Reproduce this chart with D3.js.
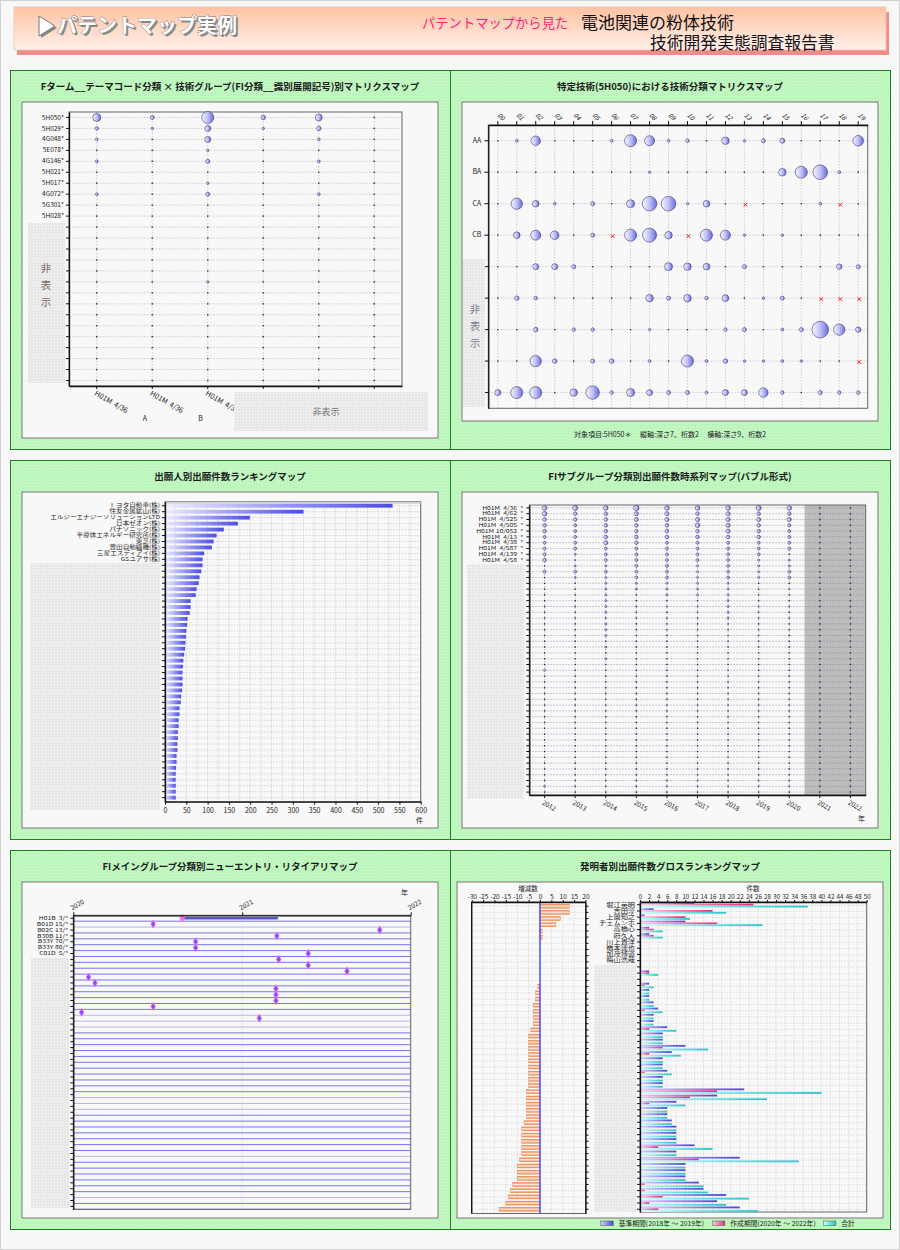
<!DOCTYPE html>
<html lang="ja">
<head>
<meta charset="utf-8">
<title>パテントマップ実例</title>
<script src="https://cdn.jsdelivr.net/npm/d3@7"></script>
<style>
  body { margin: 0; background: #f7f7f7; }
  svg { display: block; font-family: "Noto Sans CJK JP", "Noto Sans", sans-serif; }
</style>
</head>
<body>
<svg id="page" width="900" height="1250"></svg>
<script>

// ---------- header texts ----------
var headMain = 'パテントマップ実例';
var headSub1 = 'パテントマップから見た';
var headSub2 = '電池関連の粉体技術';
var headSub3 = '技術開発実態調査報告書';

var panelTitles = [
	'Fターム__テーマコード分類 × 技術グループ(FI分類__識別展開記号)別マトリクスマップ',
	'特定技術(5H050)における技術分類マトリクスマップ',
	'出願人別出願件数ランキングマップ',
	'FIサブグループ分類別出願件数時系列マップ(バブル形式)',
	'FIメイングループ分類別ニューエントリ・リタイアリマップ',
	'発明者別出願件数グロスランキングマップ'
];
var hiddenText = '非表示';

// ---------- panel 1 : theme code x tech group ----------
var tcRows = ['5H050*', '5H029*', '4G048*', '5E078*', '4G146*', '5H021*', '5H017*', '4G072*', '5G301*', '5H028*',
	'', '', '', '', '', '', '', '', '', '', '', '', '', '', ''];
var tcCols = ['H01M  4/36', 'H01M  4/36', 'H01M  4/36', '', '', ''];
var tcColSub = ['A', 'B', 'C', '', '', ''];
var tcValues = [
	[16, 4, 36, 5, 12, 0],
	[3, 1, 9, 1, 5, 0],
	[2, 0, 9, 0, 2, 0],
	[0, 0, 1, 0, 0, 0],
	[2, 0, 4, 0, 2, 0],
	[0, 0, 0, 0, 0, 0],
	[0, 0, 1, 0, 0, 0],
	[2, 0, 4, 0, 2, 0],
	[0, 0, 0, 0, 0, 0],
	[0, 0, 0, 0, 0, 0],
	[0, 0, 0, 0, 0, 0],
	[0, 0, 0, 0, 0, 0],
	[0, 0, 0, 0, 0, 0],
	[0, 0, 0, 0, 0, 0],
	[0, 0, 0, 0, 0, 0],
	[0, 0, 1, 0, 0, 0],
	[0, 0, 0, 0, 0, 0],
	[0, 0, 0, 0, 0, 0],
	[0, 0, 0, 0, 0, 0],
	[0, 0, 0, 0, 0, 0],
	[0, 0, 0, 0, 0, 0],
	[0, 0, 0, 0, 0, 0],
	[0, 0, 0, 0, 0, 0],
	[0, 0, 0, 0, 0, 0],
	[0, 0, 0, 0, 0, 0]
];

// ---------- panel 2 : 5H050 matrix (-1 = x mark) ----------
var stRows = ['AA', 'BA', 'CA', 'CB', '', '', '', '', ''];
var stCols = ['00', '01', '02', '03', '04', '05', '06', '07', '08', '09',
	'10', '11', '12', '13', '14', '15', '16', '17', '18', '19'];
var stValues = [
	[0, 2, 22, 0, 0, 0, 2, 36, 25, 2, 3, 0, 14, 1, 4, 6, 0, 0, 0, 28],
	[0, 0, 0, 0, 0, 0, 0, 0, 1, 0, 0, 0, 0, 0, 0, 14, 36, 53, 2, 0],
	[0, 32, 11, 2, 0, 4, 0, 16, 53, 53, 1, 11, 0, -1, 0, 0, 0, 2, -1, 0],
	[0, 11, 25, 18, 0, 4, -1, 36, 49, 14, -1, 36, 25, 1, 0, 1, 0, 0, 0, 0],
	[0, 0, 9, 9, 4, 0, 0, 0, 0, 16, 14, 11, 0, 4, 0, 0, 0, 0, 7, 4],
	[0, 5, 3, 0, 0, 0, 0, 0, 14, 4, 14, 3, 11, 0, 1, 4, 0, -1, -1, -1],
	[0, 0, 5, 0, 3, 3, 0, 0, 1, 0, 0, 0, 3, 4, 0, 2, 4, 69, 32, 7],
	[0, 0, 32, 5, 0, 4, 5, 0, 2, 0, 36, 2, 5, 1, 1, 2, 1, 0, 0, -1],
	[9, 36, 36, 0, 14, 45, 3, 16, 9, 4, 4, 2, 9, 9, 22, 3, 0, 4, 3, 3]
];
var stFooter = '対象項目:5H050＊　 縦軸:深さ7、桁数2　 横軸:深さ9、桁数2';

// ---------- panel 3 : applicant ranking ----------
var applicants = ['トヨタ自動車(株)', '住友金属鉱山(株)', 'エルジーエナジーソリューションLTD', '日本ゼオン(株)',
	'パナソニック(株)', '半導体エネルギー研究所(株)', '東芝(株)', '豊田自動織機(株)', '三星エスディアイ(株)', 'GSユアサ(株)'];
var applicantCounts = [534, 325, 199, 171, 138, 121, 114, 110, 92, 88,
	88, 85, 81, 79, 74, 72, 60, 60, 58, 53,
	52, 50, 49, 48, 47, 45, 43, 42, 41, 41,
	41, 40, 38, 37, 34, 34, 32, 32, 30, 30,
	29, 29, 27, 27, 26, 25, 25, 25, 25, 25];
var rankTicks = [0, 50, 100, 150, 200, 250, 300, 350, 400, 450, 500, 550, 600];

// ---------- panel 4 : FI subgroup time series ----------
var sgRows = ['H01M  4/36', 'H01M  4/62', 'H01M  4/525', 'H01M  4/505', 'H01M 10/052',
	'H01M  4/13', 'H01M  4/38', 'H01M  4/587', 'H01M  4/139', 'H01M  4/58'];
var sgYears = ['2012', '2013', '2014', '2015', '2016', '2017', '2018', '2019', '2020', '2021', '2022'];
var sgShaded = ['2021', '2022'];
var sgValues = [
	[5, 6, 5, 7, 5, 5, 5, 6, 5, 0, 0],
	[5, 3, 3, 4, 4, 3, 4, 3, 3, 0, 0],
	[3, 3, 3, 4, 4, 4, 4, 4, 4, 0, 0],
	[3, 2, 3, 3, 3, 5, 4, 3, 2, 0, 0],
	[3, 2, 3, 3, 3, 3, 4, 3, 2, 0, 0],
	[2, 2, 3, 3, 3, 3, 3, 3, 2, 0, 0],
	[2, 2, 4, 3, 2, 2, 2, 2, 2, 0, 0],
	[2, 2, 2, 2, 2, 2, 2, 2, 2, 0, 0],
	[2, 1, 2, 2, 2, 2, 2, 2, 0, 0, 0],
	[3, 0, 2, 2, 2, 2, 2, 1, 1, 0, 0],
	[0, 1, 1, 2, 2, 1, 2, 1, 1, 0, 0],
	[2, 2, 2, 2, 2, 1, 2, 1, 2, 0, 0],
	[0, 1, 1, 2, 2, 1, 2, 1, 2, 0, 0],
	[0, 0, 1, 1, 1, 1, 1, 0, 0, 0, 0],
	[0, 0, 1, 1, 1, 1, 1, 0, 0, 0, 0],
	[0, 0, 1, 0, 1, 1, 1, 0, 0, 0, 0],
	[0, 0, 1, 0, 0, 0, 1, 0, 0, 0, 0],
	[0, 0, 1, 0, 0, 0, 1, 0, 0, 0, 0],
	[0, 0, 1, 0, 0, 0, 1, 0, 0, 0, 0],
	[0, 0, 0, 0, 0, 0, 1, 0, 0, 0, 0]
];
// remaining rows 20..49: only these cells are non-zero [row, yearIndex, value]
var sgRowCount = 50;
var sgExtra = [[20, 2, 1], [21, 2, 1], [22, 2, 1], [24, 2, 1], [26, 2, 1], [28, 0, 1], [48, 0, 1]];

// ---------- panel 5 : new entry / retire ----------
var neRows = ['H01B  3/*', 'B01D 15/*', 'B02C 13/*', 'B30B 11/*', 'B33Y 70/*', 'B33Y 80/*', 'C01D  5/*'];
var neRowCount = 50;
var neYears = ['2020-01-01', '2021-01-01', '2022-01-01'];
var neEntries = [
	[0, '2020-08-24'], [1, '2020-06-22'], [2, '2021-10-26'], [3, '2021-03-17'],
	[4, '2020-09-22'], [5, '2020-09-22'], [6, '2021-05-24'], [7, '2021-03-21'],
	[8, '2021-05-24'], [9, '2021-08-16'], [10, '2020-02-03'], [11, '2020-02-17'],
	[12, '2021-03-15'], [13, '2021-03-15'], [14, '2021-03-15'], [15, '2020-06-22'],
	[16, '2020-01-19'], [17, '2021-02-07']
];
var neSpans = [[0, '2020-08-24', '2021-03-17']];
var neLightRows = [1, 16, 17, 18, 30, 31, 32, 40, 47];

// ---------- panel 6 : inventor gross ranking ----------
var inventors = ['堀江英明', '吉田淳', '上薗知之', 'チェムンホ', '高橋心', '府久人', '川上貴洋', '橋本達也', '加茂博道', '梅山浩哉'];
var invBase = [12, 3, 1, 10, 2, 2, 0, 0, 0, 0, 0, 2, 0, 2, 2, 2, 3, 4, 3, 3,
	6, 5, 5, 10, 7, 5, 5, 6, 5, 5, 23, 17, 8, 6, 6, 7, 8, 8, 8, 12,
	8, 22, 10, 10, 10, 13, 14, 19, 17, 22];
var invNew = [25, 16, 10, 17, 3, 3, 0, 0, 0, 0, 0, 2, 0, 1, 0, 0, 0, 1, 0, 0,
	2, 0, 0, 5, 2, 0, 0, 1, 0, 0, 17, 11, 2, 0, 0, 0, 0, 0, 0, 4,
	0, 13, 0, 0, 0, 1, 1, 5, 2, 4];
var invTotal = [37, 19, 11, 27, 5, 5, 0, 0, 0, 0, 0, 4, 0, 3, 2, 2, 3, 5, 3, 3,
	8, 5, 5, 15, 9, 5, 5, 7, 5, 5, 40, 28, 10, 6, 6, 7, 8, 8, 8, 16,
	8, 35, 10, 10, 10, 14, 15, 24, 19, 26];
var invDiff = [13, 13, 9, 7, 1, 1, 0, 0, 0, 0, 0, 0, 0, -1, -2, -2, -3, -3, -3, -3,
	-4, -5, -5, -5, -5, -5, -5, -5, -5, -5, -6, -6, -6, -6, -6, -7, -8, -8, -8, -8,
	-8, -9, -10, -10, -10, -12, -13, -14, -15, -18];
var diffTicks = [-30, -25, -20, -15, -10, -5, 0, 5, 10, 15, 20];
var countTicks = [0, 2, 4, 6, 8, 10, 12, 14, 16, 18, 20, 22, 24, 26, 28, 30, 32, 34, 36, 38, 40, 42, 44, 46, 48, 50];
var invSeries = ['base', 'new', 'total'];
var invLegend = ['基準期間(2018年 ～ 2019年)', '作成期間(2020年 ～ 2022年)', '合計'];


var svg = d3.select('#page');
var defs = svg.append('defs');

function linGrad(id, stops, vertical) {
	var gr = defs.append('linearGradient').attr('id', id)
		.attr('x1', 0).attr('y1', 0).attr('x2', vertical ? 0 : 1).attr('y2', vertical ? 1 : 0);
	stops.forEach(function(s) {
		gr.append('stop').attr('offset', s[0]).attr('stop-color', s[1]);
	});
}
linGrad('banner', [[0, '#ffc2a2'], [1, '#fff1ea']], true);
linGrad('bubble', [[0, '#f8f8ff'], [0.5, '#c0c0f6'], [1, '#6a6ae2']]);
linGrad('rankBar', [[0, '#ececff'], [1, '#4c4ce6']]);
linGrad('incBar', [[0, '#e8702e'], [0.45, '#ffeadc'], [1, '#ec8446']], true);
linGrad('baseBar', [[0, '#d4d4ff'], [1, '#4848d6']]);
linGrad('newBar', [[0, '#ffd0e6'], [1, '#e62e7e']]);
linGrad('totBar', [[0, '#d0ffff'], [1, '#26c6c6']]);

var pat = defs.append('pattern').attr('id', 'hidePat')
	.attr('width', 3).attr('height', 3).attr('patternUnits', 'userSpaceOnUse');
pat.append('rect').attr('width', 3).attr('height', 3).attr('fill', '#e8e8e8');
pat.append('rect').attr('width', 1).attr('height', 1).attr('fill', '#fbfbfb');

var gpat = defs.append('pattern').attr('id', 'greenPat')
	.attr('width', 3).attr('height', 3).attr('patternUnits', 'userSpaceOnUse');
gpat.append('rect').attr('width', 3).attr('height', 3).attr('fill', '#bdf6bd');
gpat.append('rect').attr('width', 1).attr('height', 1).attr('fill', '#cdfccd');

svg.append('rect').attr('x', 0.5).attr('y', 0.5).attr('width', 899).attr('height', 1249)
	.attr('fill', '#f7f7f7').attr('stroke', '#d0d0d0');

// ---------- header ----------
svg.append('rect').attr('x', 17).attr('y', 12).attr('width', 872).attr('height', 43).attr('fill', '#f28a8a');
svg.append('rect').attr('x', 14).attr('y', 7).attr('width', 872).attr('height', 43)
	.attr('fill', 'url(#banner)').attr('stroke', '#f2c2aa').attr('stroke-width', 0.8);
svg.append('path').attr('d', 'M39,16L55,26L39,36Z').attr('fill', '#888').attr('transform', 'translate(2,2)');
svg.append('path').attr('d', 'M39,16L55,26L39,36Z').attr('fill', '#fff').attr('stroke', '#777').attr('stroke-width', 1);
svg.append('text').attr('x', 59).attr('y', 35).attr('font-size', 20).attr('font-weight', 'bold')
	.attr('fill', '#8c8c8c').text(headMain);
svg.append('text').attr('x', 57).attr('y', 33).attr('font-size', 20).attr('font-weight', 'bold')
	.attr('fill', '#fff').attr('stroke', '#777').attr('stroke-width', 0.8).attr('paint-order', 'stroke')
	.text(headMain);
svg.append('text').attr('x', 422).attr('y', 28).attr('font-size', 13.3).attr('fill', '#ff1f78').text(headSub1);
svg.append('text').attr('x', 581).attr('y', 29).attr('font-size', 17).attr('fill', '#111').text(headSub2);
svg.append('text').attr('x', 650).attr('y', 49).attr('font-size', 16.8).attr('fill', '#111').text(headSub3);

// ---------- helpers ----------
function drawPanel(x, y, title) {
	svg.append('rect').attr('x', x + 0.5).attr('y', y + 0.5).attr('width', 440).attr('height', 379)
		.attr('fill', 'url(#greenPat)').attr('stroke', '#1f801f').attr('stroke-width', 1);
	svg.append('text').attr('x', x + 220).attr('y', y + 19.5).attr('text-anchor', 'middle')
		.attr('font-size', 9.5).attr('font-weight', 'bold').attr('fill', '#1a1a1a').text(title);
}

function innerBox(x0, y0, x1, y1) {
	svg.append('rect').attr('x', x0).attr('y', y0).attr('width', x1 - x0).attr('height', y1 - y0)
		.attr('fill', '#f8f8f8').attr('stroke', '#8a8a8a').attr('stroke-width', 1.2);
}

function hideBox(x0, y0, x1, y1) {
	svg.append('rect').attr('x', x0).attr('y', y0).attr('width', x1 - x0).attr('height', y1 - y0)
		.attr('fill', 'url(#hidePat)');
}

function styleAxis(g, fs) {
	g.attr('font-family', null).attr('font-size', fs);
	g.selectAll('.tick line').attr('stroke', '#111');
	g.selectAll('.tick text').attr('fill', '#222');
	g.select('.domain').attr('stroke', '#111').attr('stroke-width', 1.3);
	return g;
}

// squeeze row labels vertically so they fit the narrow rows
function squeeze(g) {
	g.selectAll('.tick text').attr('transform', 'scale(1,0.78)').style('white-space', 'pre');
	return g;
}

function frame(x0, y0, x1, y1) {
	svg.append('rect').attr('x', x0).attr('y', y0).attr('width', x1 - x0).attr('height', y1 - y0)
		.attr('fill', 'none').attr('stroke', '#666').attr('stroke-width', 1);
}

function bandGrid(x, y, color, dash) {
	var g = svg.append('g').attr('stroke', color).attr('stroke-width', 0.5).attr('stroke-dasharray', dash);
	var xr = x.range(), yr = y.range();
	g.append('g').selectAll('line').data(y.domain()).join('line')
		.attr('x1', xr[0]).attr('x2', xr[1])
		.attr('y1', function(d) { return y(d) + y.bandwidth() / 2; })
		.attr('y2', function(d) { return y(d) + y.bandwidth() / 2; });
	g.append('g').selectAll('line').data(x.domain()).join('line')
		.attr('y1', yr[0]).attr('y2', yr[1])
		.attr('x1', function(d) { return x(d) + x.bandwidth() / 2; })
		.attr('x2', function(d) { return x(d) + x.bandwidth() / 2; });
}

function cellsOf(matrix, keys) {
	var out = [];
	matrix.forEach(function(row, i) {
		row.forEach(function(v, j) { out.push({ r: i, c: keys ? keys[j] : j, v: v }); });
	});
	return out;
}

function bubbles(cells, x, y, r, minR) {
	var cx = function(d) { return x(d.c) + x.bandwidth() / 2; };
	var cy = function(d) { return y(d.r) + y.bandwidth() / 2; };
	svg.append('g').selectAll('rect').data(cells.filter(function(d) { return d.v === 0; })).join('rect')
		.attr('x', function(d) { return cx(d) - 0.7; }).attr('y', function(d) { return cy(d) - 0.7; })
		.attr('width', 1.4).attr('height', 1.4).attr('fill', '#2e2e50');
	svg.append('g').selectAll('circle').data(cells.filter(function(d) { return d.v > 0; })).join('circle')
		.attr('cx', cx).attr('cy', cy)
		.attr('r', function(d) { return Math.max(r(d.v), minR); })
		.attr('fill', 'url(#bubble)').attr('stroke', '#38386e').attr('stroke-width', 0.6);
	svg.append('g').selectAll('path').data(cells.filter(function(d) { return d.v < 0; })).join('path')
		.attr('d', 'M-1.8,-1.8L1.8,1.8M-1.8,1.8L1.8,-1.8')
		.attr('transform', function(d) { return 'translate(' + (cx(d) + 1) + ',' + (cy(d) + 1) + ')'; })
		.attr('stroke', '#ff1a1a').attr('stroke-width', 1);
}

function verticalHidden(x, y, color) {
	hiddenText.split('').forEach(function(ch, i) {
		svg.append('text').attr('x', x).attr('y', y + i * 17).attr('text-anchor', 'middle')
			.attr('font-size', 10.5).attr('fill', color).text(ch);
	});
}

// ---------- panels ----------
var panelPos = [[10, 70], [450, 70], [10, 460], [450, 460], [10, 850], [450, 850]];
panelPos.forEach(function(p, i) { drawPanel(p[0], p[1], panelTitles[i]); });

// === panel 1 ===
innerBox(22, 102, 438, 438);
var tcX = d3.scaleBand().domain(d3.range(tcCols.length)).range([69, 402]);
var tcY = d3.scaleBand().domain(d3.range(tcRows.length)).range([112, 386]);
var tcR = d3.scaleSqrt().domain([0, 36]).range([0, 6]);
bandGrid(tcX, tcY, '#a2a2bc', '1.5,1.5');
frame(69, 112, 402, 386);
bubbles(cellsOf(tcValues), tcX, tcY, tcR, 1.2);
styleAxis(svg.append('g').attr('transform', 'translate(69,0)')
	.call(d3.axisLeft(tcY).tickSize(3).tickPadding(2).tickSizeOuter(0)
		.tickFormat(function(i) { return tcRows[i]; })), 6.5);
var tcBottom = styleAxis(svg.append('g').attr('transform', 'translate(0,386)')
	.call(d3.axisBottom(tcX).tickSize(3).tickSizeOuter(0)
		.tickFormat(function(i) { return tcCols[i]; })), 7.2);
tcBottom.selectAll('.tick text').attr('text-anchor', 'start').attr('x', 2).attr('y', 4).attr('dy', '0.7em')
	.attr('transform', 'rotate(30)').style('white-space', 'pre');
svg.append('g').selectAll('text').data(d3.range(tcColSub.length)).join('text')
	.attr('x', function(i) { return tcX(i) + tcX.bandwidth() / 2 + 46; }).attr('y', 421)
	.attr('font-size', 7).attr('fill', '#222').text(function(i) { return tcColSub[i]; });
hideBox(28, 223, 65, 383);
verticalHidden(46, 272, '#7c6a66');
hideBox(234, 392, 428, 431);
svg.append('text').attr('x', 326).attr('y', 415).attr('text-anchor', 'middle').attr('font-size', 9)
	.attr('fill', '#777').text(hiddenText);

// === panel 2 ===
innerBox(462, 102, 878, 421);
var stX = d3.scaleBand().domain(stCols).range([488.3, 867.7]);
var stY = d3.scaleBand().domain(d3.range(stRows.length)).range([125, 408.3]);
var stR = d3.scaleSqrt().domain([0, 69]).range([0, 8.3]);
bandGrid(stX, stY, '#a2a2bc', '1.5,1.5');
frame(488.3, 125, 867.7, 408.3);
bubbles(cellsOf(stValues, stCols), stX, stY, stR, 1.2);
styleAxis(svg.append('g').attr('transform', 'translate(488.3,0)')
	.call(d3.axisLeft(stY).tickSize(4).tickPadding(3).tickSizeOuter(0)
		.tickFormat(function(i) { return stRows[i]; })), 7);
var stTop = styleAxis(svg.append('g').attr('transform', 'translate(0,125)')
	.call(d3.axisTop(stX).tickSize(4).tickSizeOuter(0)), 6.3);
stTop.selectAll('.tick text').attr('text-anchor', 'end').attr('x', 0).attr('y', -6).attr('dy', 0)
	.attr('transform', 'rotate(45)').attr('font-style', 'italic');
hideBox(463, 259, 485, 407);
verticalHidden(475, 313, '#7c8094');
svg.append('text').attr('x', 670).attr('y', 437).attr('text-anchor', 'middle').attr('font-size', 7)
	.attr('fill', '#222').style('white-space', 'pre').text(stFooter);

// === panel 3 ===
innerBox(22, 492, 438, 828);
var rkX = d3.scaleLinear().domain([0, 600]).range([165, 420.7]);
var rkY = d3.scaleBand().domain(d3.range(applicantCounts.length)).range([501.7, 801.7]).padding(0.36);
var rkGrid = svg.append('g').attr('stroke', '#b0b0c4').attr('stroke-width', 0.5).attr('stroke-dasharray', '1.5,1.5');
rkGrid.append('g').selectAll('line').data(d3.range(0, 601, 25)).join('line')
	.attr('x1', rkX).attr('x2', rkX).attr('y1', 501.7).attr('y2', 801.7);
rkGrid.append('g').selectAll('line').data(rkY.domain()).join('line')
	.attr('x1', 165).attr('x2', 420.7)
	.attr('y1', function(i) { return rkY(i) + rkY.bandwidth() / 2; })
	.attr('y2', function(i) { return rkY(i) + rkY.bandwidth() / 2; });
frame(165, 501.7, 420.7, 801.7);
svg.append('rect').attr('x', 165).attr('y', 501.7).attr('width', 255.7).attr('height', 2).attr('fill', '#cfcfcf');
svg.append('g').selectAll('rect').data(applicantCounts).join('rect')
	.attr('x', rkX(0)).attr('y', function(d, i) { return rkY(i); })
	.attr('width', function(d) { return rkX(d) - rkX(0); }).attr('height', rkY.bandwidth())
	.attr('fill', 'url(#rankBar)');
styleAxis(svg.append('g').attr('transform', 'translate(0,801.7)')
	.call(d3.axisBottom(rkX).tickValues(rankTicks).tickSize(3).tickSizeOuter(0)), 7);
squeeze(styleAxis(svg.append('g').attr('transform', 'translate(165,0)')
	.call(d3.axisLeft(rkY).tickSize(3).tickPadding(2).tickSizeOuter(0)
		.tickFormat(function(i) { return applicants[i] || ''; })), 6.6));
svg.append('text').attr('x', 416).attr('y', 823).attr('font-size', 7).attr('fill', '#222').text('件');
hideBox(30, 563, 160, 810);

// === panel 4 ===
innerBox(462, 492, 878, 828);
var sgX = d3.scaleBand().domain(sgYears).range([529.3, 865.7]);
var sgY = d3.scaleBand().domain(d3.range(sgRowCount)).range([505, 795]);
var sgR = d3.scaleSqrt().domain([0, 7]).range([0, 2.7]);
svg.append('rect').attr('x', sgX(sgShaded[0])).attr('y', 505)
	.attr('width', 865.7 - sgX(sgShaded[0])).attr('height', 290).attr('fill', '#bcbcbc');
bandGrid(sgX, sgY, '#7c7c98', '1.5,1.5');
frame(529.3, 505, 865.7, 795);
var sgCells = cellsOf(sgValues, sgYears);
d3.range(sgValues.length, sgRowCount).forEach(function(r) {
	sgYears.forEach(function(yr, j) {
		var hit = sgExtra.find(function(e) { return e[0] === r && e[1] === j; });
		sgCells.push({ r: r, c: yr, v: hit ? hit[2] : 0 });
	});
});
bubbles(sgCells, sgX, sgY, sgR, 1);
squeeze(styleAxis(svg.append('g').attr('transform', 'translate(529.3,0)')
	.call(d3.axisLeft(sgY).tickSize(3).tickPadding(3).tickSizeOuter(0)
		.tickFormat(function(i) { return sgRows[i] ? sgRows[i] + '  *' : ''; })), 6.8));
var sgBottom = styleAxis(svg.append('g').attr('transform', 'translate(0,795)')
	.call(d3.axisBottom(sgX).tickSize(3).tickSizeOuter(0)), 6.5);
sgBottom.selectAll('.tick text').attr('text-anchor', 'start').attr('x', 2).attr('y', 6).attr('dy', '0.5em')
	.attr('transform', 'rotate(30)');
svg.append('text').attr('x', 858).attr('y', 821).attr('font-size', 7).attr('fill', '#222').text('年');
hideBox(467, 564, 524, 799);

// === panel 5 ===
innerBox(22, 882, 438, 1218);
var parseDay = d3.timeParse('%Y-%m-%d');
var neX = d3.scaleTime().domain([parseDay(neYears[0]), parseDay(neYears[2])]).range([73.3, 410.7]);
var neY = d3.scaleBand().domain(d3.range(neRowCount)).range([915.3, 1209.3]);
svg.append('line').attr('x1', neX(parseDay(neYears[1]))).attr('x2', neX(parseDay(neYears[1])))
	.attr('y1', 915.3).attr('y2', 1209.3).attr('stroke', '#d4d4dc').attr('stroke-dasharray', '1,2');
svg.append('g').selectAll('line').data(neY.domain()).join('line')
	.attr('x1', 73.3).attr('x2', 410.7)
	.attr('y1', function(i) { return neY(i) + neY.step(); })
	.attr('y2', function(i) { return neY(i) + neY.step(); })
	.attr('stroke', function(i) { return neLightRows.indexOf(i) >= 0 ? '#b6b6e6' : '#7676ee'; })
	.attr('stroke-width', 1);
frame(73.3, 915.3, 410.7, 1209.3);
svg.append('g').selectAll('line').data(neSpans).join('line')
	.attr('x1', function(d) { return neX(parseDay(d[1])); }).attr('x2', function(d) { return neX(parseDay(d[2])); })
	.attr('y1', function(d) { return neY(d[0]) + neY.bandwidth() / 2; })
	.attr('y2', function(d) { return neY(d[0]) + neY.bandwidth() / 2; })
	.attr('stroke', '#5656cc').attr('stroke-width', 2.6).attr('stroke-linecap', 'round');
svg.append('g').selectAll('path').data(neEntries).join('path')
	.attr('d', d3.symbol(d3.symbolDiamond).size(18))
	.attr('transform', function(d) { return 'translate(' + neX(parseDay(d[1])) + ',' + (neY(d[0]) + neY.bandwidth() / 2) + ')'; })
	.attr('fill', function(d, i) { return i === 0 ? '#ff6ae0' : '#6e58ee'; })
	.attr('stroke', '#ff70f0').attr('stroke-width', 0.9);
squeeze(styleAxis(svg.append('g').attr('transform', 'translate(73.3,0)')
	.call(d3.axisLeft(neY).tickSize(3).tickPadding(2).tickSizeOuter(0)
		.tickFormat(function(i) { return neRows[i] || ''; })), 6.8));
var neTop = styleAxis(svg.append('g').attr('transform', 'translate(0,915.3)')
	.call(d3.axisTop(neX).tickValues(neYears.map(parseDay)).tickSize(3).tickSizeOuter(0)
		.tickFormat(d3.timeFormat('%Y'))), 6.5);
neTop.selectAll('.tick text').attr('text-anchor', 'start').attr('x', 1).attr('y', -5).attr('dy', 0)
	.attr('transform', 'rotate(-30)');
svg.append('text').attr('x', 401).attr('y', 895).attr('font-size', 7).attr('fill', '#222').text('年');
hideBox(31, 958, 69, 1208);

// === panel 6 ===
innerBox(457, 882, 883, 1218);
var gdX = d3.scaleLinear().domain([-30, 20]).range([471.7, 585.5]);
var gdY = d3.scaleBand().domain(d3.range(invDiff.length)).range([902, 1213.5]).padding(0.36);
var gdGrid = svg.append('g').attr('stroke', '#c0c0cc').attr('stroke-width', 0.5).attr('stroke-dasharray', '1.5,1.5');
gdGrid.append('g').selectAll('line').data(diffTicks).join('line')
	.attr('x1', gdX).attr('x2', gdX).attr('y1', 902).attr('y2', 1213.5);
gdGrid.append('g').selectAll('line').data(gdY.domain()).join('line')
	.attr('x1', 471.7).attr('x2', 585.5)
	.attr('y1', function(i) { return gdY(i) + gdY.bandwidth() / 2; })
	.attr('y2', function(i) { return gdY(i) + gdY.bandwidth() / 2; });
frame(471.7, 902, 585.5, 1213.5);
svg.append('g').selectAll('rect').data(invDiff).join('rect')
	.attr('x', function(d) { return gdX(Math.min(0, d)); }).attr('y', function(d, i) { return gdY(i); })
	.attr('width', function(d) { return Math.abs(gdX(d) - gdX(0)); }).attr('height', gdY.bandwidth())
	.attr('fill', 'url(#incBar)').attr('stroke', '#e8804a').attr('stroke-width', 0.4);
svg.append('line').attr('x1', gdX(0)).attr('x2', gdX(0)).attr('y1', 902).attr('y2', 1213.5)
	.attr('stroke', '#2a2aff').attr('stroke-width', 1.2);
styleAxis(svg.append('g').attr('transform', 'translate(0,902)')
	.call(d3.axisTop(gdX).tickValues(diffTicks).tickSize(2).tickPadding(1.5).tickSizeOuter(0)
		.tickFormat(function(d) { return String(d); })), 6.6);
styleAxis(svg.append('g').attr('transform', 'translate(585.5,0)')
	.call(d3.axisRight(gdY).tickSize(3).tickSizeOuter(0).tickFormat('')), 7);
svg.append('line').attr('x1', 471.7).attr('x2', 471.7).attr('y1', 902).attr('y2', 1213.5)
	.attr('stroke', '#111').attr('stroke-width', 1.3);
svg.append('text').attr('x', 528).attr('y', 890.5).attr('text-anchor', 'middle').attr('font-size', 6.5)
	.attr('fill', '#222').text('増減数');

var cntX = d3.scaleLinear().domain([0, 50]).range([640, 866.7]);
var cntY = d3.scaleBand().domain(d3.range(invTotal.length)).range([902, 1212]).paddingInner(0.12);
var cntSub = d3.scaleBand().domain(invSeries).range([0, cntY.bandwidth()]);
var cntGrid = svg.append('g').attr('stroke', '#c0c0cc').attr('stroke-width', 0.5).attr('stroke-dasharray', '1.5,1.5');
cntGrid.append('g').selectAll('line').data(countTicks).join('line')
	.attr('x1', cntX).attr('x2', cntX).attr('y1', 902).attr('y2', 1212);
cntGrid.append('g').selectAll('line').data(cntY.domain()).join('line')
	.attr('x1', 640).attr('x2', 866.7)
	.attr('y1', function(i) { return cntY(i) + cntY.step() / 2; })
	.attr('y2', function(i) { return cntY(i) + cntY.step() / 2; });
frame(640, 902, 866.7, 1212);
var invRows = invTotal.map(function(t, i) { return { i: i, base: invBase[i], 'new': invNew[i], total: t }; });
var invFill = { base: 'url(#baseBar)', 'new': 'url(#newBar)', total: 'url(#totBar)' };
invSeries.forEach(function(s) {
	svg.append('g').selectAll('rect').data(invRows.filter(function(d) { return d[s] > 0; })).join('rect')
		.attr('x', cntX(0)).attr('y', function(d) { return cntY(d.i) + cntSub(s); })
		.attr('width', function(d) { return cntX(d[s]) - cntX(0); }).attr('height', cntSub.bandwidth())
		.attr('fill', invFill[s]);
});
styleAxis(svg.append('g').attr('transform', 'translate(0,902)')
	.call(d3.axisTop(cntX).tickValues(countTicks).tickSize(2).tickPadding(1.5).tickSizeOuter(0)), 6.2);
squeeze(styleAxis(svg.append('g').attr('transform', 'translate(640,0)')
	.call(d3.axisLeft(cntY).tickSize(3).tickPadding(2).tickSizeOuter(0)
		.tickFormat(function(i) { return inventors[i] || ''; })), 7.2));
svg.append('text').attr('x', 753).attr('y', 890.5).attr('text-anchor', 'middle').attr('font-size', 6.5)
	.attr('fill', '#222').text('件数');
hideBox(594, 965, 636.5, 1211.5);

// legend
var legX = [600.7, 712.3, 823.3];
invSeries.forEach(function(s, i) {
	svg.append('rect').attr('x', legX[i]).attr('y', 1221).attr('width', 12.6).attr('height', 4.5)
		.attr('fill', invFill[s]).attr('stroke', '#555').attr('stroke-width', 0.5);
	svg.append('text').attr('x', legX[i] + 18).attr('y', 1226).attr('font-size', 6.8)
		.attr('fill', '#222').text(invLegend[i]);
});

</script>
</body>
</html>
